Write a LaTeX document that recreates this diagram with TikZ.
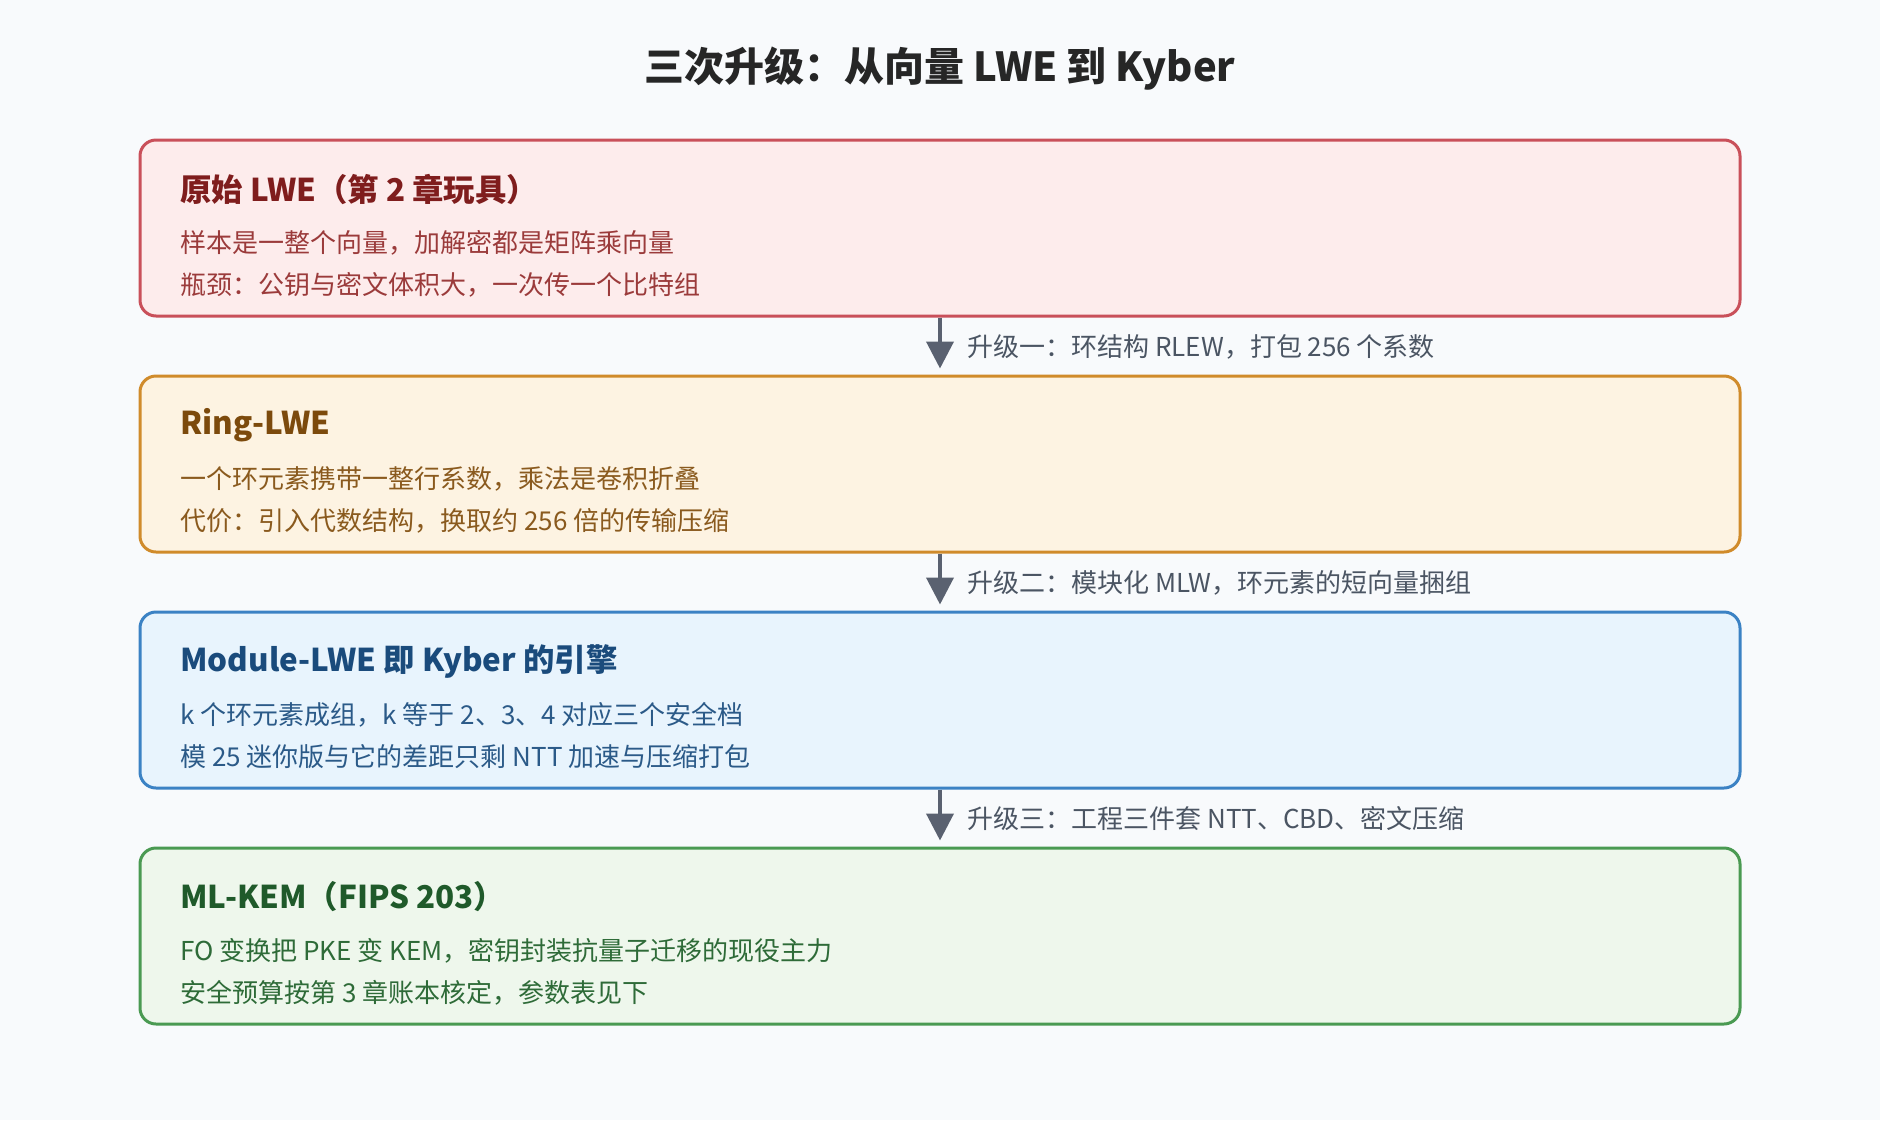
\documentclass[tikz,border=0pt]{standalone}
\usepackage{xcolor}
\usepackage{fontspec}
\setmainfont{Noto Sans CJK SC}
\usetikzlibrary{arrows.meta}

\definecolor{bgc}{HTML}{F8FAFC}
\definecolor{arrc}{HTML}{5A6170}
\definecolor{lblc}{HTML}{4B5563}
\definecolor{redfill}{HTML}{FDECEC}
\definecolor{redline}{HTML}{C9505A}
\definecolor{redhead}{HTML}{7F1D1D}
\definecolor{redtext}{HTML}{9B3B3B}
\definecolor{orgfill}{HTML}{FDF3E2}
\definecolor{orgline}{HTML}{D08B2B}
\definecolor{orghead}{HTML}{7C4A0C}
\definecolor{orgtext}{HTML}{8A5A1E}
\definecolor{blufill}{HTML}{E8F4FD}
\definecolor{bluline}{HTML}{3B82C4}
\definecolor{bluhead}{HTML}{1A4B7C}
\definecolor{blutext}{HTML}{2B5A88}
\definecolor{grnfill}{HTML}{EEF7EC}
\definecolor{grnline}{HTML}{4A9A52}
\definecolor{grnhead}{HTML}{1F5A2A}
\definecolor{grntext}{HTML}{2E6B38}

\tikzset{
  stagebox/.style={draw, line width=1.5pt, rounded corners=8pt,
    minimum width=800pt, minimum height=88pt, inner sep=0pt},
  stagehead/.style={anchor=west, inner sep=0pt,
    font=\fontsize{15.7pt}{19pt}\selectfont\bfseries},
  stagetext/.style={anchor=west, inner sep=0pt,
    font=\fontsize{13pt}{16pt}\selectfont},
  upgrade/.style={arrc, line width=2pt, shorten >=3pt,
    -{Triangle[length=13.5pt,width=13.5pt]}},
  upgradelbl/.style={anchor=west, inner sep=0pt, text=lblc,
    font=\fontsize{13pt}{16pt}\selectfont}
}

\begin{document}
\begin{tikzpicture}[x=0.5pt,y=-0.5pt]
          \fill[bgc] (0,0) rectangle (1880,1120);
          \useasboundingbox (0,0) rectangle (1880,1120);

          \node[font=\fontsize{20pt}{24pt}\selectfont\bfseries, text=black!85]
            (title) at (940,69) {三次升级：从向量 LWE 到 Kyber};

          % stage boxes
          \node[stagebox, fill=redfill, draw=redline] (lwe) at (940,228) {};
          \node[stagebox, fill=orgfill, draw=orgline] (rlwe) at (940,464) {};
          \node[stagebox, fill=blufill, draw=bluline] (mlwe) at (940,700) {};
          \node[stagebox, fill=grnfill, draw=grnline] (kem) at (940,936) {};

          % texts
          \node[stagehead, text=redhead] (lweh) at (180,189) {原始 LWE（第 2 章玩具）};
          \node[stagetext, text=redtext] (lwea) at (180,243) {样本是一整个向量，加解密都是矩阵乘向量};
          \node[stagetext, text=redtext] (lweb) at (180,285) {瓶颈：公钥与密文体积大，一次传一个比特组};

          \node[stagehead, text=orghead] (rlweh) at (180,425) {Ring-LWE};
          \node[stagetext, text=orgtext] (rlwea) at (180,479) {一个环元素携带一整行系数，乘法是卷积折叠};
          \node[stagetext, text=orgtext] (rlweb) at (180,521) {代价：引入代数结构，换取约 256 倍的传输压缩};

          \node[stagehead, text=bluhead] (mlweh) at (180,661) {Module-LWE 即 Kyber 的引擎};
          \node[stagetext, text=blutext] (mlwea) at (180,715) {k 个环元素成组，k 等于 2、3、4 对应三个安全档};
          \node[stagetext, text=blutext] (mlweb) at (180,757) {模 25 迷你版与它的差距只剩 NTT 加速与压缩打包};

          \node[stagehead, text=grnhead] (kemh) at (180,897) {ML-KEM（FIPS 203）};
          \node[stagetext, text=grntext] (kema) at (180,951) {FO 变换把 PKE 变 KEM，密钥封装抗量子迁移的现役主力};
          \node[stagetext, text=grntext] (kemb) at (180,993) {安全预算按第 3 章账本核定，参数表见下};

          % upgrades
          \draw[upgrade] (lwe.south) -- (rlwe.north);
          \draw[upgrade] (rlwe.south) -- (mlwe.north);
          \draw[upgrade] (mlwe.south) -- (kem.north);

          \node[upgradelbl] (up1) at (967,347) {升级一：环结构 RLEW，打包 256 个系数};
          \node[upgradelbl] (up2) at (967,583) {升级二：模块化 MLW，环元素的短向量捆组};
          \node[upgradelbl] (up3) at (967,819) {升级三：工程三件套 NTT、CBD、密文压缩};

          \end{tikzpicture}
\end{document}
